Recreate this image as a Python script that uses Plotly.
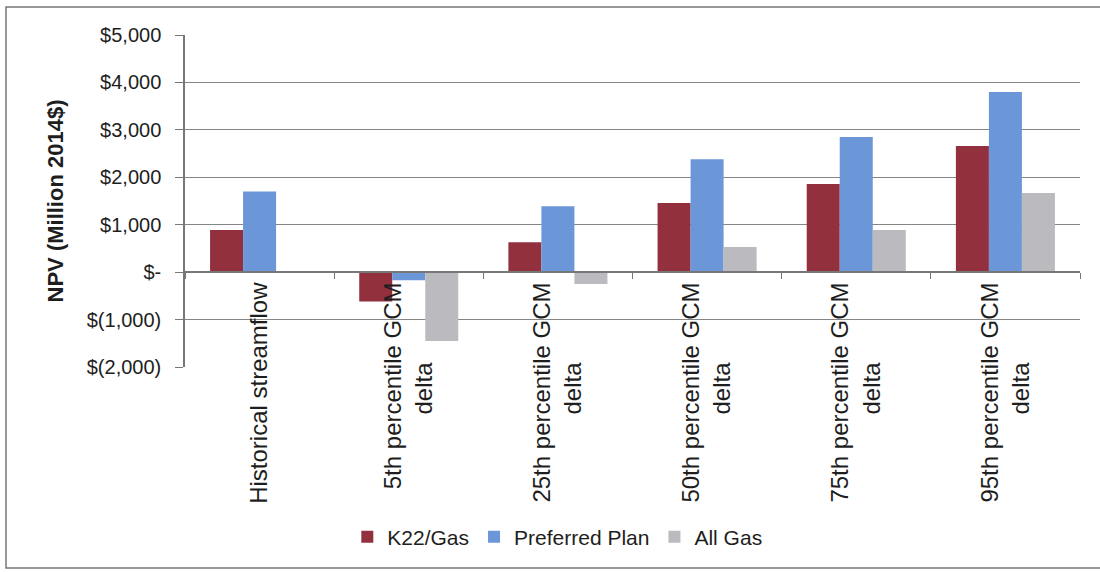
import plotly.graph_objects as go

PAD = "\u00a0" * 12
categories = ["Historical streamflow",
              "5th percentile GCM<br>delta" + PAD,
              "25th percentile GCM<br>delta" + PAD,
              "50th percentile GCM<br>delta" + PAD,
              "75th percentile GCM<br>delta" + PAD,
              "95th percentile GCM<br>delta" + PAD]
k22_gas = [890, -620, 630, 1460, 1860, 2660]
preferred_plan = [1700, -170, 1390, 2380, 2850, 3800]
all_gas = [0, -1450, -250, 530, 890, 1670]

y_tickvals = [5000, 4000, 3000, 2000, 1000, 0, -1000, -2000]
y_ticktext = ["$5,000", "$4,000", "$3,000", "$2,000", "$1,000", "$-", "$(1,000)", "$(2,000)"]

FONT = "Arial, Liberation Sans, sans-serif"
fig = go.Figure()
fig.add_bar(x=categories, y=k22_gas, name="K22/Gas", marker_color="#92303E", marker_line_width=0)
fig.add_bar(x=categories, y=preferred_plan, name="Preferred Plan", marker_color="#6B96D8", marker_line_width=0)
fig.add_bar(x=categories, y=all_gas, name="All Gas", marker_color="#BBBBBF", marker_line_width=0)

ymin, ymax = -2000, 5000
fig.update_layout(
    width=1100, height=572,
    margin=dict(l=185, r=20, t=35, b=205),
    paper_bgcolor="white", plot_bgcolor="white",
    barmode="group", bargap=0.336, bargroupgap=0,
    font=dict(family=FONT, size=20, color="#1e1e1e"),
    legend=dict(orientation="h", x=0.416, xanchor="center", y=-0.512, yanchor="middle",
                font=dict(size=21), itemwidth=30, traceorder="normal"),
    xaxis=dict(type="category", anchor="free", position=(0 - ymin) / (ymax - ymin),
               showline=True, linecolor="#777777", linewidth=1.5,
               ticks="outside", tickson="boundaries", ticklen=6, tickcolor="#777777",
               tickangle=-90, showgrid=False, tickfont=dict(size=24)),
    yaxis=dict(range=[ymin, ymax], tickvals=y_tickvals, ticktext=y_ticktext,
               showgrid=True, gridcolor="#858585", gridwidth=1.2,
               zeroline=True, zerolinecolor="#777777", zerolinewidth=1.5,
               showline=True, linecolor="#777777", linewidth=1.5,
               ticks="outside", ticklen=8, tickcolor="#777777", ticklabelstandoff=10,
               tickfont=dict(size=20),
               title=dict(text="<b>NPV (Million 2014$)</b>", font=dict(size=22), standoff=17)),
)
# outer chart border
fig.add_shape(type="rect", xref="paper", yref="paper",
              x0=(6 - 185) / 895, x1=(1105 - 185) / 895,
              y0=(367 - 568) / 332, y1=(367 - 7) / 332,
              line=dict(color="#777777", width=1.5), fillcolor="rgba(0,0,0,0)", layer="below")
fig.write_html("out.html")
